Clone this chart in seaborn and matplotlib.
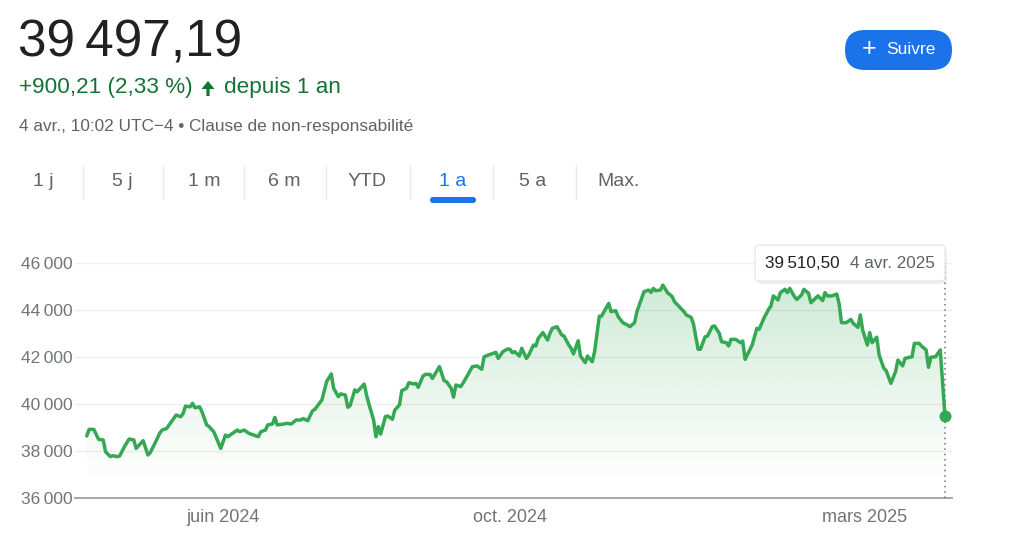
import numpy as np
import pandas as pd
import matplotlib
matplotlib.use("Agg")
import matplotlib.pyplot as plt
import matplotlib.dates as mdates
from matplotlib.colors import to_rgb
from matplotlib.patches import FancyBboxPatch, FancyArrow
import seaborn as sns

# ---- data ----
dates = [
    "2024-04-04", "2024-04-05", "2024-04-07", "2024-04-09", "2024-04-11", "2024-04-12",
    "2024-04-14", "2024-04-15", "2024-04-17", "2024-04-18", "2024-04-20", "2024-04-22",
    "2024-04-24", "2024-04-25", "2024-04-28", "2024-04-30", "2024-05-01", "2024-05-03",
    "2024-05-05", "2024-05-06", "2024-05-08", "2024-05-11", "2024-05-12", "2024-05-14",
    "2024-05-15", "2024-05-16", "2024-05-18", "2024-05-19", "2024-05-20", "2024-05-22",
    "2024-05-23", "2024-05-25", "2024-05-26", "2024-05-28", "2024-05-31", "2024-06-02",
    "2024-06-03", "2024-06-05", "2024-06-07", "2024-06-08", "2024-06-10", "2024-06-12",
    "2024-06-14", "2024-06-16", "2024-06-17", "2024-06-19", "2024-06-20", "2024-06-22",
    "2024-06-23", "2024-06-24", "2024-06-27", "2024-06-28", "2024-06-30", "2024-07-02",
    "2024-07-04", "2024-07-05", "2024-07-07", "2024-07-09", "2024-07-10", "2024-07-13",
    "2024-07-15", "2024-07-17", "2024-07-18", "2024-07-20", "2024-07-21", "2024-07-23",
    "2024-07-24", "2024-07-25", "2024-07-27", "2024-07-28", "2024-07-31", "2024-08-01",
    "2024-08-02", "2024-08-04", "2024-08-05", "2024-08-06", "2024-08-07", "2024-08-09",
    "2024-08-10", "2024-08-12", "2024-08-13", "2024-08-15", "2024-08-16", "2024-08-18",
    "2024-08-19", "2024-08-21", "2024-08-22", "2024-08-23", "2024-08-25", "2024-08-26",
    "2024-08-28", "2024-08-29", "2024-09-01", "2024-09-03", "2024-09-04", "2024-09-06",
    "2024-09-07", "2024-09-08", "2024-09-10", "2024-09-11", "2024-09-13", "2024-09-15",
    "2024-09-17", "2024-09-19", "2024-09-20", "2024-09-22", "2024-09-24", "2024-09-25",
    "2024-09-26", "2024-09-28", "2024-09-30", "2024-10-01", "2024-10-02", "2024-10-03",
    "2024-10-05", "2024-10-06", "2024-10-08", "2024-10-09", "2024-10-11", "2024-10-12",
    "2024-10-13", "2024-10-15", "2024-10-17", "2024-10-18", "2024-10-19", "2024-10-21",
    "2024-10-23", "2024-10-24", "2024-10-26", "2024-10-27", "2024-10-28", "2024-10-30",
    "2024-10-31", "2024-11-02", "2024-11-03", "2024-11-05", "2024-11-06", "2024-11-08",
    "2024-11-09", "2024-11-10", "2024-11-12", "2024-11-13", "2024-11-15", "2024-11-16",
    "2024-11-18", "2024-11-20", "2024-11-21", "2024-11-23", "2024-11-24", "2024-11-26",
    "2024-11-27", "2024-11-29", "2024-11-30", "2024-12-01", "2024-12-02", "2024-12-04",
    "2024-12-05", "2024-12-07", "2024-12-09", "2024-12-10", "2024-12-12", "2024-12-14",
    "2024-12-15", "2024-12-17", "2024-12-18", "2024-12-20", "2024-12-21", "2024-12-23",
    "2024-12-24", "2024-12-26", "2024-12-27", "2024-12-29", "2024-12-30", "2025-01-01",
    "2025-01-02", "2025-01-03", "2025-01-05", "2025-01-07", "2025-01-08", "2025-01-09",
    "2025-01-11", "2025-01-12", "2025-01-14", "2025-01-15", "2025-01-17", "2025-01-19",
    "2025-01-20", "2025-01-21", "2025-01-23", "2025-01-24", "2025-01-26", "2025-01-27",
    "2025-01-28", "2025-01-30", "2025-01-31", "2025-02-02", "2025-02-03", "2025-02-05",
    "2025-02-06", "2025-02-08", "2025-02-09", "2025-02-11", "2025-02-12", "2025-02-13",
    "2025-02-15", "2025-02-17", "2025-02-18", "2025-02-19", "2025-02-21", "2025-02-23",
    "2025-02-24", "2025-02-26", "2025-02-27", "2025-02-28", "2025-03-02", "2025-03-03",
    "2025-03-04", "2025-03-06", "2025-03-07", "2025-03-09", "2025-03-10", "2025-03-12",
    "2025-03-14", "2025-03-15", "2025-03-17", "2025-03-18", "2025-03-20", "2025-03-21",
    "2025-03-22", "2025-03-24", "2025-03-25", "2025-03-27", "2025-03-28", "2025-03-29",
    "2025-03-31", "2025-04-02", "2025-04-04",
]
values = [
    38640, 38920, 38920, 38500, 38470, 37970,
    37760, 37800, 37760, 37790, 38180, 38510,
    38470, 38110, 38440, 37830, 37930, 38330,
    38750, 38890, 38960, 39390, 39530, 39460,
    39600, 39910, 39880, 40030, 39840, 39880,
    39670, 39110, 39040, 38820, 38110, 38680,
    38610, 38750, 38890, 38820, 38890, 38750,
    38680, 38610, 38820, 38890, 39110, 39150,
    39430, 39110, 39150, 39180, 39150, 39320,
    39320, 39380, 39290, 39710, 39770, 40170,
    40950, 41280, 40670, 40310, 40430, 40380,
    39860, 39930, 40600, 40520, 40850, 40380,
    40000, 39320, 38610, 39040, 38720, 39460,
    39490, 39350, 39740, 39960, 40570, 40670,
    40910, 40850, 40880, 40710, 41190, 41260,
    41260, 41090, 41590, 40990, 40950, 40670,
    40290, 40810, 40740, 40880, 41230, 41590,
    41620, 41480, 42010, 42090, 42160, 42200,
    41940, 42230, 42340, 42330, 42180, 42230,
    42040, 42370, 41940, 42090, 42510, 42470,
    42790, 43040, 42720, 43010, 43220, 43290,
    42940, 42890, 42510, 42370, 42130, 42690,
    42040, 41760, 42040, 41800, 42230, 43740,
    43740, 43930, 44280, 43930, 43970, 43720,
    43460, 43360, 43290, 43460, 43930, 44500,
    44780, 44850, 44750, 44920, 44820, 44850,
    45060, 44740, 44570, 44350, 44140, 43930,
    43790, 43690, 43430, 42330, 42330, 42860,
    42890, 43290, 43320, 43010, 42650, 42610,
    42470, 42750, 42750, 42610, 42680, 41900,
    42300, 42510, 43220, 43180, 43650, 44030,
    44170, 44600, 44430, 44740, 44880, 44740,
    44920, 44570, 44450, 44640, 44880, 44710,
    44310, 44500, 44600, 44400, 44740, 44600,
    44600, 44680, 44260, 43460, 43460, 43600,
    43430, 43260, 43790, 43150, 42510, 43040,
    42610, 42840, 42090, 41520, 41420, 40880,
    41380, 41870, 41620, 41940, 41990, 42010,
    42580, 42580, 42470, 42300, 41560, 41990,
    42010, 42300, 39510.50,
]
y_ticks = [36000, 38000, 40000, 42000, 44000, 46000]
month_ticks = ["2024-06-01", "2024-10-01", "2025-03-01"]
month_labels = ["juin 2024", "oct. 2024", "mars 2025"]
last_date_label = "4 avr. 2025"
price_text = "39\u202f497,19"
change_text = "+900,21 (2,33 %)"
period_text = "depuis 1 an"
stamp_text = "4 avr., 10:02 UTC\u22124 \u2022 Clause de non-responsabilit\u00e9"
tabs = ["1 j", "5 j", "1 m", "6 m", "YTD", "1 a", "5 a", "Max."]
active_tab = "1 a"

GREEN = "#34a853"
DARK_GREEN = "#137333"
GREY = "#70757a"
BLUE = "#1a73e8"


def fr_num(v, dec=0):
    s = f"{v:,.{dec}f}"
    return s.replace(",", "\u202f").replace(".", ",")


sns.set_theme(style="white")
plt.rcParams["font.family"] = ["Liberation Sans", "DejaVu Sans"]

W, H = 1024, 547
fig = plt.figure(figsize=(W / 100, H / 100), dpi=100)
fig.patch.set_facecolor("white")

ax = fig.add_axes([75 / W, 1 - 498 / H, 877 / W, 235 / H])
df = pd.DataFrame({"date": pd.to_datetime(dates), "value": values})
sns.lineplot(data=df, x="date", y="value", color=GREEN, lw=2.5, ax=ax, zorder=4)

# gradient area below the line
xnum = mdates.date2num(df["date"])
poly = ax.fill_between(df["date"], df["value"], y_ticks[0], color="none", lw=0)
grad = np.zeros((256, 1, 4))
grad[..., :3] = to_rgb(GREEN)
grad[:, 0, 3] = np.clip(np.linspace(0.26, -0.02, 256), 0, None)
im = ax.imshow(grad, aspect="auto", origin="upper", zorder=2,
               extent=[xnum.min(), xnum.max(), y_ticks[0], y_ticks[-1]])
im.set_clip_path(poly.get_paths()[0], transform=ax.transData)

last_date = df["date"].iloc[-1]
last_val = df["value"].iloc[-1]
ax.scatter([last_date], [last_val], s=75, color=GREEN, zorder=6, linewidths=0)
ax.axvline(last_date, ymin=0, ymax=0.99, color=GREY, ls=(0, (1, 2.5)), lw=1.1, zorder=3)

ax.set_xlim(pd.Timestamp("2024-03-30"), pd.Timestamp("2025-04-07"))
ax.set_ylim(y_ticks[0], y_ticks[-1])
ax.set_yticks(y_ticks)
ax.set_yticklabels([fr_num(v) for v in y_ticks])
ax.set_xticks(pd.to_datetime(month_ticks))
ax.set_xticklabels(month_labels)
ax.set_xlabel("")
ax.set_ylabel("")
ax.yaxis.grid(True, color="#eeeeee", lw=1)
ax.xaxis.grid(False)
for s in ["top", "right", "left"]:
    ax.spines[s].set_visible(False)
ax.spines["bottom"].set_color("#9aa0a6")
ax.spines["bottom"].set_linewidth(1.3)
ax.tick_params(axis="y", length=0, pad=2, labelsize=12.5, labelcolor=GREY)
ax.tick_params(axis="x", length=6, width=1.2, color="#9aa0a6", direction="inout",
               pad=5, labelsize=13, labelcolor=GREY)

# overlay in pixel coordinates for the page elements
ov = fig.add_axes([0, 0, 1, 1])
ov.set_xlim(0, W)
ov.set_ylim(H, 0)
ov.axis("off")

ov.text(18, 43, price_text, fontsize=37, color="#202124", va="center")
ov.text(19, 88, change_text, fontsize=16.2, color=DARK_GREEN, va="center")
ov.add_patch(FancyArrow(208, 96, 0, -15, width=3.2, head_width=13, head_length=8,
                        length_includes_head=True, color=DARK_GREEN, lw=0))
ov.text(224, 88, period_text, fontsize=16.2, color=DARK_GREEN, va="center")
ov.text(19, 127, stamp_text, fontsize=12.4, color="#5f6368", va="center")

ov.add_patch(FancyBboxPatch((845, 30), 107, 40, boxstyle="round,pad=0,rounding_size=20",
                            fc=BLUE, ec="none"))
ov.text(869, 49, "+", fontsize=18, color="white", va="center", ha="center")
ov.text(886, 49, "Suivre", fontsize=12.5, color="white", va="center")

tab_x = [43, 122, 204, 284, 367, 453, 533, 619]
for i, (t, x) in enumerate(zip(tabs, tab_x)):
    col = BLUE if t == active_tab else "#5f6368"
    ov.text(x, 182, t, fontsize=14, color=col, va="center", ha="center")
    if i < len(tabs) - 1:
        sx = (x + tab_x[i + 1]) / 2
        ov.plot([sx, sx], [165, 199], color="#e8eaed", lw=1)
    if t == active_tab:
        ov.add_patch(FancyBboxPatch((x - 23, 197), 46, 6, boxstyle="round,pad=0,rounding_size=3",
                                    fc=BLUE, ec="none"))

# tooltip box
ov.add_patch(FancyBboxPatch((757, 248), 190, 36, boxstyle="round,pad=0,rounding_size=4",
                            fc="#000000", ec="none", alpha=0.06))
ov.add_patch(FancyBboxPatch((755, 245), 190, 36, boxstyle="round,pad=0,rounding_size=4",
                            fc="white", ec="#e3e3e3", lw=0.8))
ov.text(765, 263, fr_num(last_val, 2), fontsize=12.3, color="#202124", va="center")
ov.text(850, 263, last_date_label, fontsize=12.3, color="#5f6368", va="center")

fig.savefig("out.png", dpi=100, facecolor="white")
